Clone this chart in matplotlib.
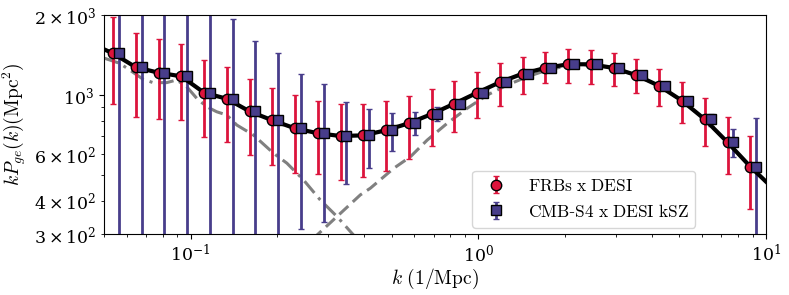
import numpy as np
import matplotlib
matplotlib.use("Agg")
import matplotlib.pyplot as plt

plt.rcParams['mathtext.fontset'] = 'cm'
plt.rcParams['font.family'] = 'serif'
plt.rcParams['font.serif'] = ['DejaVu Serif']
plt.rcParams['axes.unicode_minus'] = False

# bin centres (1/Mpc)
k_bins = [0.0537, 0.0645, 0.0774, 0.0928, 0.1114, 0.1336, 0.1603, 0.1924,
          0.2308, 0.2769, 0.3322, 0.3986, 0.4783, 0.5738, 0.6885, 0.8260,
          0.9908, 1.189, 1.426, 1.711, 2.053, 2.463, 2.955, 3.545, 4.254,
          5.104, 6.124, 7.346, 8.813]
k_offset = 1.047  # CMB-S4 points are shifted a little to the right

# model value at the bins (both data sets are centred on it)
p_bins = [1435, 1272, 1213, 1176, 1020, 968, 868, 803, 749, 718, 701, 705,
          737, 783, 848, 928, 1020, 1117, 1203, 1264, 1305, 1305, 1264, 1187,
          1082, 952, 810, 664, 538]

# FRBs x DESI error bar ends
frb_hi = [1960, 1715, 1620, 1556, 1351, 1275, 1146, 1063, 998, 952, 923, 925,
          950, 992, 1054, 1132, 1221, 1316, 1394, 1451, 1490, 1481, 1439, 1363,
          1253, 1122, 972, 829, 703]
frb_lo = [928, 829, 810, 805, 695, 666, 593, 545, 510, 505, 479, 491, 519,
          576, 643, 726, 822, 912, 1006, 1113, 1110, 1103, 1082, 1020, 909,
          787, 643, 503, 373]

# CMB-S4 x DESI kSZ error bar ends
ksz_hi = [5000, 5000, 5000, 5000, 5000, 1927, 1601, 1443, 1197, 1100, 944,
          884, 856, 861, 899, 950, 1040, 1140, 1228, 1290, 1332, 1332, 1290,
          1212, 1105, 972, 848, 745, 817]
ksz_lo = [100, 100, 100, 100, 100, 100, 100, 100, 313, 333, 461, 533, 616,
          705, 799, 908, 1000, 1094, 1178, 1238, 1278, 1278, 1238, 1162, 1059,
          932, 765, 586, 100]

# total model curve (edges of the plot + bins)
k_model = [0.05] + k_bins + [10.0]
p_model = [1486] + p_bins + [472]

# two-halo term
k_2h = [0.0499, 0.0567, 0.0614, 0.0684, 0.0741, 0.0825, 0.0894, 0.0969,
        0.1050, 0.1137, 0.1232, 0.1335, 0.1447, 0.1653, 0.1941, 0.2161,
        0.2469, 0.2822, 0.3227, 0.3686, 0.42]
p_2h = [1378, 1316, 1242, 1146, 1113, 1113, 1139, 1075, 972, 904, 865, 841,
        771, 707, 604, 554, 479, 403, 349, 297, 250]

# one-halo term
k_1h = [0.24, 0.2748, 0.3227, 0.3890, 0.4214, 0.5082, 0.5809, 0.6645,
        0.7800, 0.9156, 1.075, 1.262, 1.482, 1.739, 2.053, 2.463, 2.955,
        3.545, 4.254, 5.104, 6.124, 7.346, 8.813, 10.0]
p_1h = [255, 297, 349, 421, 446, 530, 586, 677, 783, 892, 1000, 1091, 1172,
        1242, 1290, 1300, 1262, 1186, 1081, 951, 809, 663, 537, 471]

k_bins = np.array(k_bins)
p_bins = np.array(p_bins)
frb_err = [p_bins - np.array(frb_lo), np.array(frb_hi) - p_bins]
ksz_err = [p_bins - np.array(ksz_lo), np.array(ksz_hi) - p_bins]

fig = plt.figure(figsize=(7.89, 2.95), dpi=100)
ax = fig.add_axes([0.1318, 0.2068, 0.8391, 0.7424])

ax.plot(k_2h, p_2h, color='grey', lw=2.2, ls=(0, (5, 2, 1, 2)), zorder=1)
ax.plot(k_1h, p_1h, color='grey', lw=2.2, ls=(0, (4, 2)), zorder=1)
ax.plot(k_model, p_model, color='black', lw=3, zorder=3)

red = '#DC143C'
blue = '#483D8B'
c1 = ax.errorbar(k_bins, p_bins, yerr=frb_err, fmt='o', color=red, ecolor=red,
                 mec='black', ms=7.5, mew=1, elinewidth=2, capsize=2.5,
                 capthick=2, zorder=4, label=r'$\mathrm{FRBs\ x\ DESI}$')
c2 = ax.errorbar(k_bins * k_offset, p_bins, yerr=ksz_err, fmt='s', color=blue,
                 ecolor=blue, mec='black', ms=7.5, mew=1, elinewidth=2,
                 capsize=2.5, capthick=2, zorder=5,
                 label=r'$\mathrm{CMB}$-$\mathrm{S4\ x\ DESI\ kSZ}$')
for c in (c1, c2):
    for a in c[1]:
        a.set_zorder(2)
    for a in c[2]:
        a.set_zorder(2)

ax.set_xscale('log')
ax.set_yscale('log')
ax.set_xlim(0.05, 10)
ax.set_ylim(300, 2000)
ax.tick_params(which='both', labelsize=12.5)
ax.set_xlabel(r'$k\ \mathrm{(1/Mpc)}$', fontsize=14, labelpad=1)
ax.set_ylabel(r'$kP_{ge}(k)(\mathrm{Mpc}^2)$', fontsize=14)

ax.legend(loc='lower left', bbox_to_anchor=(0.543, -0.01), fontsize=12.5)

fig.savefig('out.png', dpi=100)
